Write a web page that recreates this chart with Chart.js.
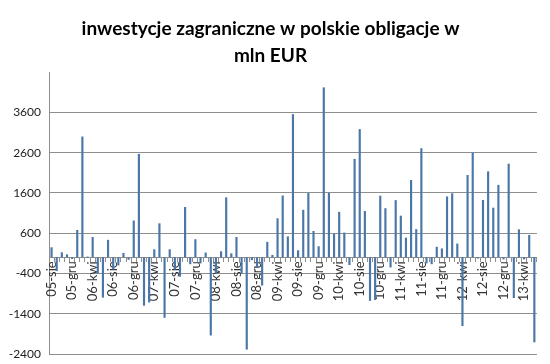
<!DOCTYPE html>
<html><head><meta charset="utf-8">
<script src="https://cdn.jsdelivr.net/npm/chart.js@4/dist/chart.umd.min.js"></script>
<style>html,body{margin:0;padding:0;background:#fff}</style>
</head><body>
<canvas id="c" width="550" height="364"></canvas>
<script>
const categories = [
 "05-sie","05-wrz","05-paź","05-lis","05-gru",
 "06-sty","06-lut","06-mar","06-kwi","06-maj","06-cze","06-lip","06-sie","06-wrz","06-paź","06-lis","06-gru",
 "07-sty","07-lut","07-mar","07-kwi","07-maj","07-cze","07-lip","07-sie","07-wrz","07-paź","07-lis","07-gru",
 "08-sty","08-lut","08-mar","08-kwi","08-maj","08-cze","08-lip","08-sie","08-wrz","08-paź","08-lis","08-gru",
 "09-sty","09-lut","09-mar","09-kwi","09-maj","09-cze","09-lip","09-sie","09-wrz","09-paź","09-lis","09-gru",
 "10-sty","10-lut","10-mar","10-kwi","10-maj","10-cze","10-lip","10-sie","10-wrz","10-paź","10-lis","10-gru",
 "11-sty","11-lut","11-mar","11-kwi","11-maj","11-cze","11-lip","11-sie","11-wrz","11-paź","11-lis","11-gru",
 "12-sty","12-lut","12-mar","12-kwi","12-maj","12-cze","12-lip","12-sie","12-wrz","12-paź","12-lis","12-gru",
 "13-sty","13-lut","13-mar","13-kwi","13-maj","13-cze"
];
const values = [
 250,-340,125,75,-40,
 680,3000,20,505,-400,-1000,435,-300,-200,110,-60,915,
 2570,-1200,-1120,200,845,-1500,200,-300,-480,1250,-170,450,
 -150,120,-1940,-400,150,1490,100,505,-400,-2290,-70,-250,
 -700,385,60,970,1535,520,3555,175,1180,1600,655,275,
 4220,1600,585,1130,615,-190,2445,3185,1150,-1080,-1060,1530,
 1220,-250,1420,1035,490,1920,700,2710,-150,-170,262,220,
 1512,1590,342,-1705,2045,2600,-30,1425,2135,1233,1800,-50,
 2325,-1010,695,-50,555,-2110
];
const yMin = -2400, yMax = 4600, yStep = 1000;
const titleLines = ["inwestycje zagraniczne w polskie obligacje w", "mln EUR"];
const labelEvery = 4;

new Chart(document.getElementById('c'), {
  type: 'bar',
  data: {
    labels: categories,
    datasets: [{
      data: values,
      backgroundColor: '#4a76a8',
      borderWidth: 0,
      barPercentage: 0.42,
      categoryPercentage: 1
    }]
  },
  options: {
    responsive: false,
    devicePixelRatio: 1,
    animation: false,
    layout: { padding: { left: 0, right: 9, top: 0, bottom: 10 } },
    plugins: {
      legend: { display: false },
      tooltip: { enabled: false },
      title: {
        display: true,
        text: titleLines,
        color: '#000',
        font: { family: 'Lato', weight: 'bold', size: 19, lineHeight: 1.45 },
        padding: { top: 15, bottom: 2 }
      }
    },
    scales: {
      y: {
        min: yMin, max: yMax,
        ticks: {
          stepSize: yStep,
          color: '#222',
          padding: 8,
          font: { family: 'Lato', size: 12 },
          callback: v => v === yMax ? '' : String(v)
        },
        grid: {
          drawTicks: false,
          color: c => (c.tick && c.tick.value === yMax) ? 'rgba(0,0,0,0)' : '#8e8e8e'
        },
        border: { display: true, color: '#8e8e8e' },
        afterFit: s => { s.width = 49; s.paddingTop = 0; s.paddingBottom = 0; }
      },
      x: {
        position: { y: 0 },
        offset: true,
        grid: { offset: true, drawOnChartArea: false, drawTicks: true, tickLength: 4, color: '#8e8e8e' },
        border: { display: true, color: '#8e8e8e' },
        ticks: {
          autoSkip: false, maxRotation: 90, minRotation: 90, padding: 0,
          color: '#333',
          font: { family: 'Lato', size: 13 },
          callback: (v, i) => (i % labelEvery === 0 ? categories[i] : '')
        },
        afterFit: s => { s.height = 0; }
      }
    }
  }
});
</script>
</body></html>
